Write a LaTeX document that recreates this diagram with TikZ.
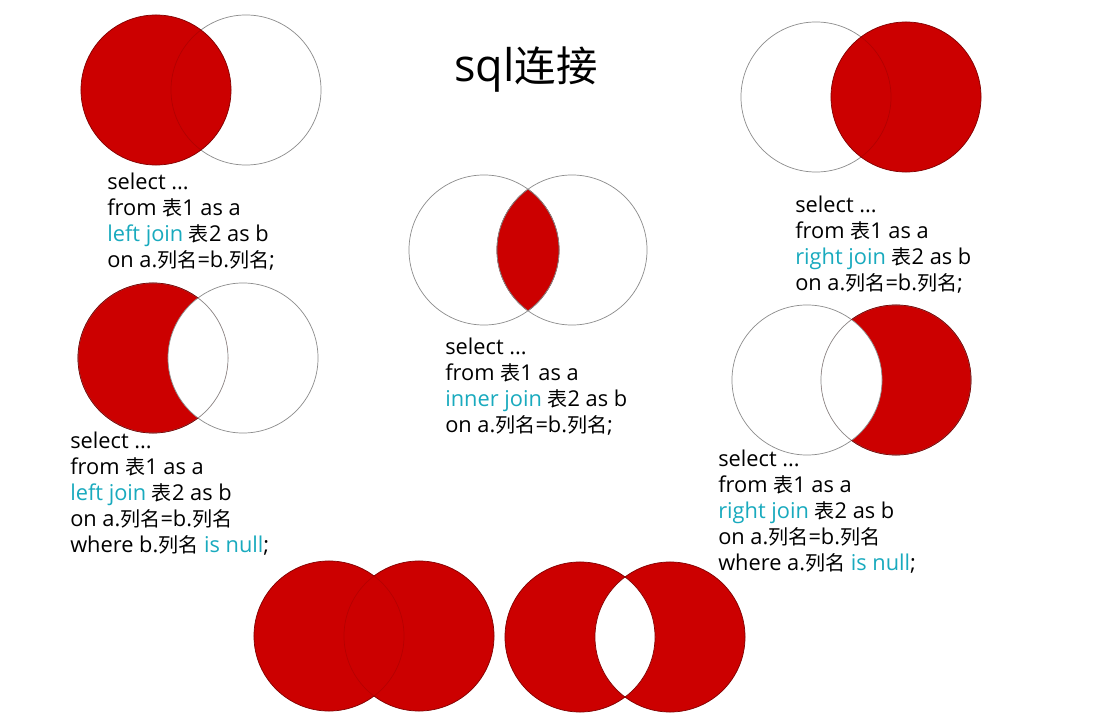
\documentclass[tikz,border=0pt]{standalone}
\usepackage{fontspec}
\setmainfont{Open Sans}
\newfontfamily\cjk[Scale=0.92]{Noto Sans CJK SC}
\usepackage{xcolor}
\usepackage{tikz}
\usetikzlibrary{positioning}
\definecolor{sqlred}{RGB}{204,0,0}
\definecolor{sqledge}{RGB}{130,0,0}
\definecolor{sqlcyan}{RGB}{25,170,190}
\definecolor{ringgray}{RGB}{140,140,140}
\newcommand{\kw}[1]{\textcolor{sqlcyan}{#1}}
\newcommand{\zh}[1]{{\cjk #1}}
\newcommand{\vennr}{1.875cm}

\begin{document}
\begin{tikzpicture}[
  x=0.025cm, y=-0.025cm,
  redarea/.style={fill=sqlred},
  redline/.style={draw=sqledge, line width=0.5pt},
  grayline/.style={draw=ringgray, line width=0.5pt},
  code/.style={anchor=north west, align=left, inner sep=0pt, font=\fontsize{15.5}{18.5}\selectfont},
  heading/.style={font=\fontsize{32}{36}\selectfont, inner sep=0pt}
]
\useasboundingbox[fill=white] (0,0) rectangle (1104,728);

\node[heading] (title) at (526,70) {sql\zh{连接}};

% left join
\coordinate (lja) at (156,90);
\coordinate (ljb) at (246,90);
\draw[grayline] (ljb) circle[radius=\vennr];
\fill[redarea] (lja) circle[radius=\vennr];
\begin{scope}
  \clip (lja) circle[radius=\vennr];
  \draw[redline, opacity=0.35] (ljb) circle[radius=\vennr];
\end{scope}
\draw[redline] (lja) circle[radius=\vennr];
\node[code] (ljtext) at (107,173) {select ...\\from \zh{表}1 as a\\\kw{left join} \zh{表}2 as b\\on a.\zh{列名}=b.\zh{列名};};

% inner join
\coordinate (ija) at (484,250);
\coordinate (ijb) at (572,250);
\begin{scope}
  \clip (ija) circle[radius=\vennr];
  \fill[redarea] (ijb) circle[radius=\vennr];
  \draw[redline] (ijb) circle[radius=\vennr];
\end{scope}
\begin{scope}
  \clip (ijb) circle[radius=\vennr];
  \draw[redline] (ija) circle[radius=\vennr];
\end{scope}
\draw[grayline] (ija) circle[radius=\vennr];
\draw[grayline] (ijb) circle[radius=\vennr];
\node[code] (ijtext) at (445,338) {select ...\\from \zh{表}1 as a\\\kw{inner join} \zh{表}2 as b\\on a.\zh{列名}=b.\zh{列名};};

% right join
\coordinate (rja) at (816,97);
\coordinate (rjb) at (906,97);
\draw[grayline] (rja) circle[radius=\vennr];
\fill[redarea] (rjb) circle[radius=\vennr];
\begin{scope}
  \clip (rjb) circle[radius=\vennr];
  \draw[redline, opacity=0.35] (rja) circle[radius=\vennr];
\end{scope}
\draw[redline] (rjb) circle[radius=\vennr];
\node[code] (rjtext) at (795,196) {select ...\\from \zh{表}1 as a\\\kw{right join} \zh{表}2 as b\\on a.\zh{列名}=b.\zh{列名};};

% left join, b is null
\coordinate (lna) at (153,358);
\coordinate (lnb) at (243,358);
\fill[redarea] (lna) circle[radius=\vennr];
\begin{scope}
  \clip (lna) circle[radius=\vennr];
  \fill[white] (lnb) circle[radius=\vennr];
\end{scope}
\draw[grayline] (lna) circle[radius=\vennr];
\draw[grayline] (lnb) circle[radius=\vennr];
\begin{scope}[even odd rule]
  \clip (-10,-10) rectangle (1120,740) (lnb) circle[radius=\vennr];
  \draw[redline] (lna) circle[radius=\vennr];
\end{scope}
\node[code] (lntext) at (70,432) {select ...\\from \zh{表}1 as a\\\kw{left join} \zh{表}2 as b\\on a.\zh{列名}=b.\zh{列名}\\where b.\zh{列名} \kw{is null};};

% right join, a is null
\coordinate (rna) at (807,380);
\coordinate (rnb) at (896,380);
\fill[redarea] (rnb) circle[radius=\vennr];
\begin{scope}
  \clip (rnb) circle[radius=\vennr];
  \fill[white] (rna) circle[radius=\vennr];
\end{scope}
\draw[grayline] (rna) circle[radius=\vennr];
\draw[grayline] (rnb) circle[radius=\vennr];
\begin{scope}[even odd rule]
  \clip (-10,-10) rectangle (1120,740) (rna) circle[radius=\vennr];
  \draw[redline] (rnb) circle[radius=\vennr];
\end{scope}
\node[code] (rntext) at (718,450) {select ...\\from \zh{表}1 as a\\\kw{right join} \zh{表}2 as b\\on a.\zh{列名}=b.\zh{列名}\\where a.\zh{列名} \kw{is null};};

% full outer
\coordinate (fja) at (329,636);
\coordinate (fjb) at (419,636);
\fill[redarea] (fja) circle[radius=\vennr];
\fill[redarea] (fjb) circle[radius=\vennr];
\begin{scope}
  \clip (fja) circle[radius=\vennr];
  \draw[redline, opacity=0.3] (fjb) circle[radius=\vennr];
\end{scope}
\begin{scope}
  \clip (fjb) circle[radius=\vennr];
  \draw[redline, opacity=0.3] (fja) circle[radius=\vennr];
\end{scope}
\begin{scope}[even odd rule]
  \clip (-10,-10) rectangle (1120,740) (fjb) circle[radius=\vennr];
  \draw[redline] (fja) circle[radius=\vennr];
\end{scope}
\begin{scope}[even odd rule]
  \clip (-10,-10) rectangle (1120,740) (fja) circle[radius=\vennr];
  \draw[redline] (fjb) circle[radius=\vennr];
\end{scope}

% full outer, no match
\coordinate (xja) at (580,637);
\coordinate (xjb) at (670,637);
\fill[redarea] (xja) circle[radius=\vennr];
\fill[redarea] (xjb) circle[radius=\vennr];
\begin{scope}
  \clip (xja) circle[radius=\vennr];
  \fill[white] (xjb) circle[radius=\vennr];
\end{scope}
\draw[redline] (xja) circle[radius=\vennr];
\draw[redline] (xjb) circle[radius=\vennr];
\end{tikzpicture}
\end{document}
